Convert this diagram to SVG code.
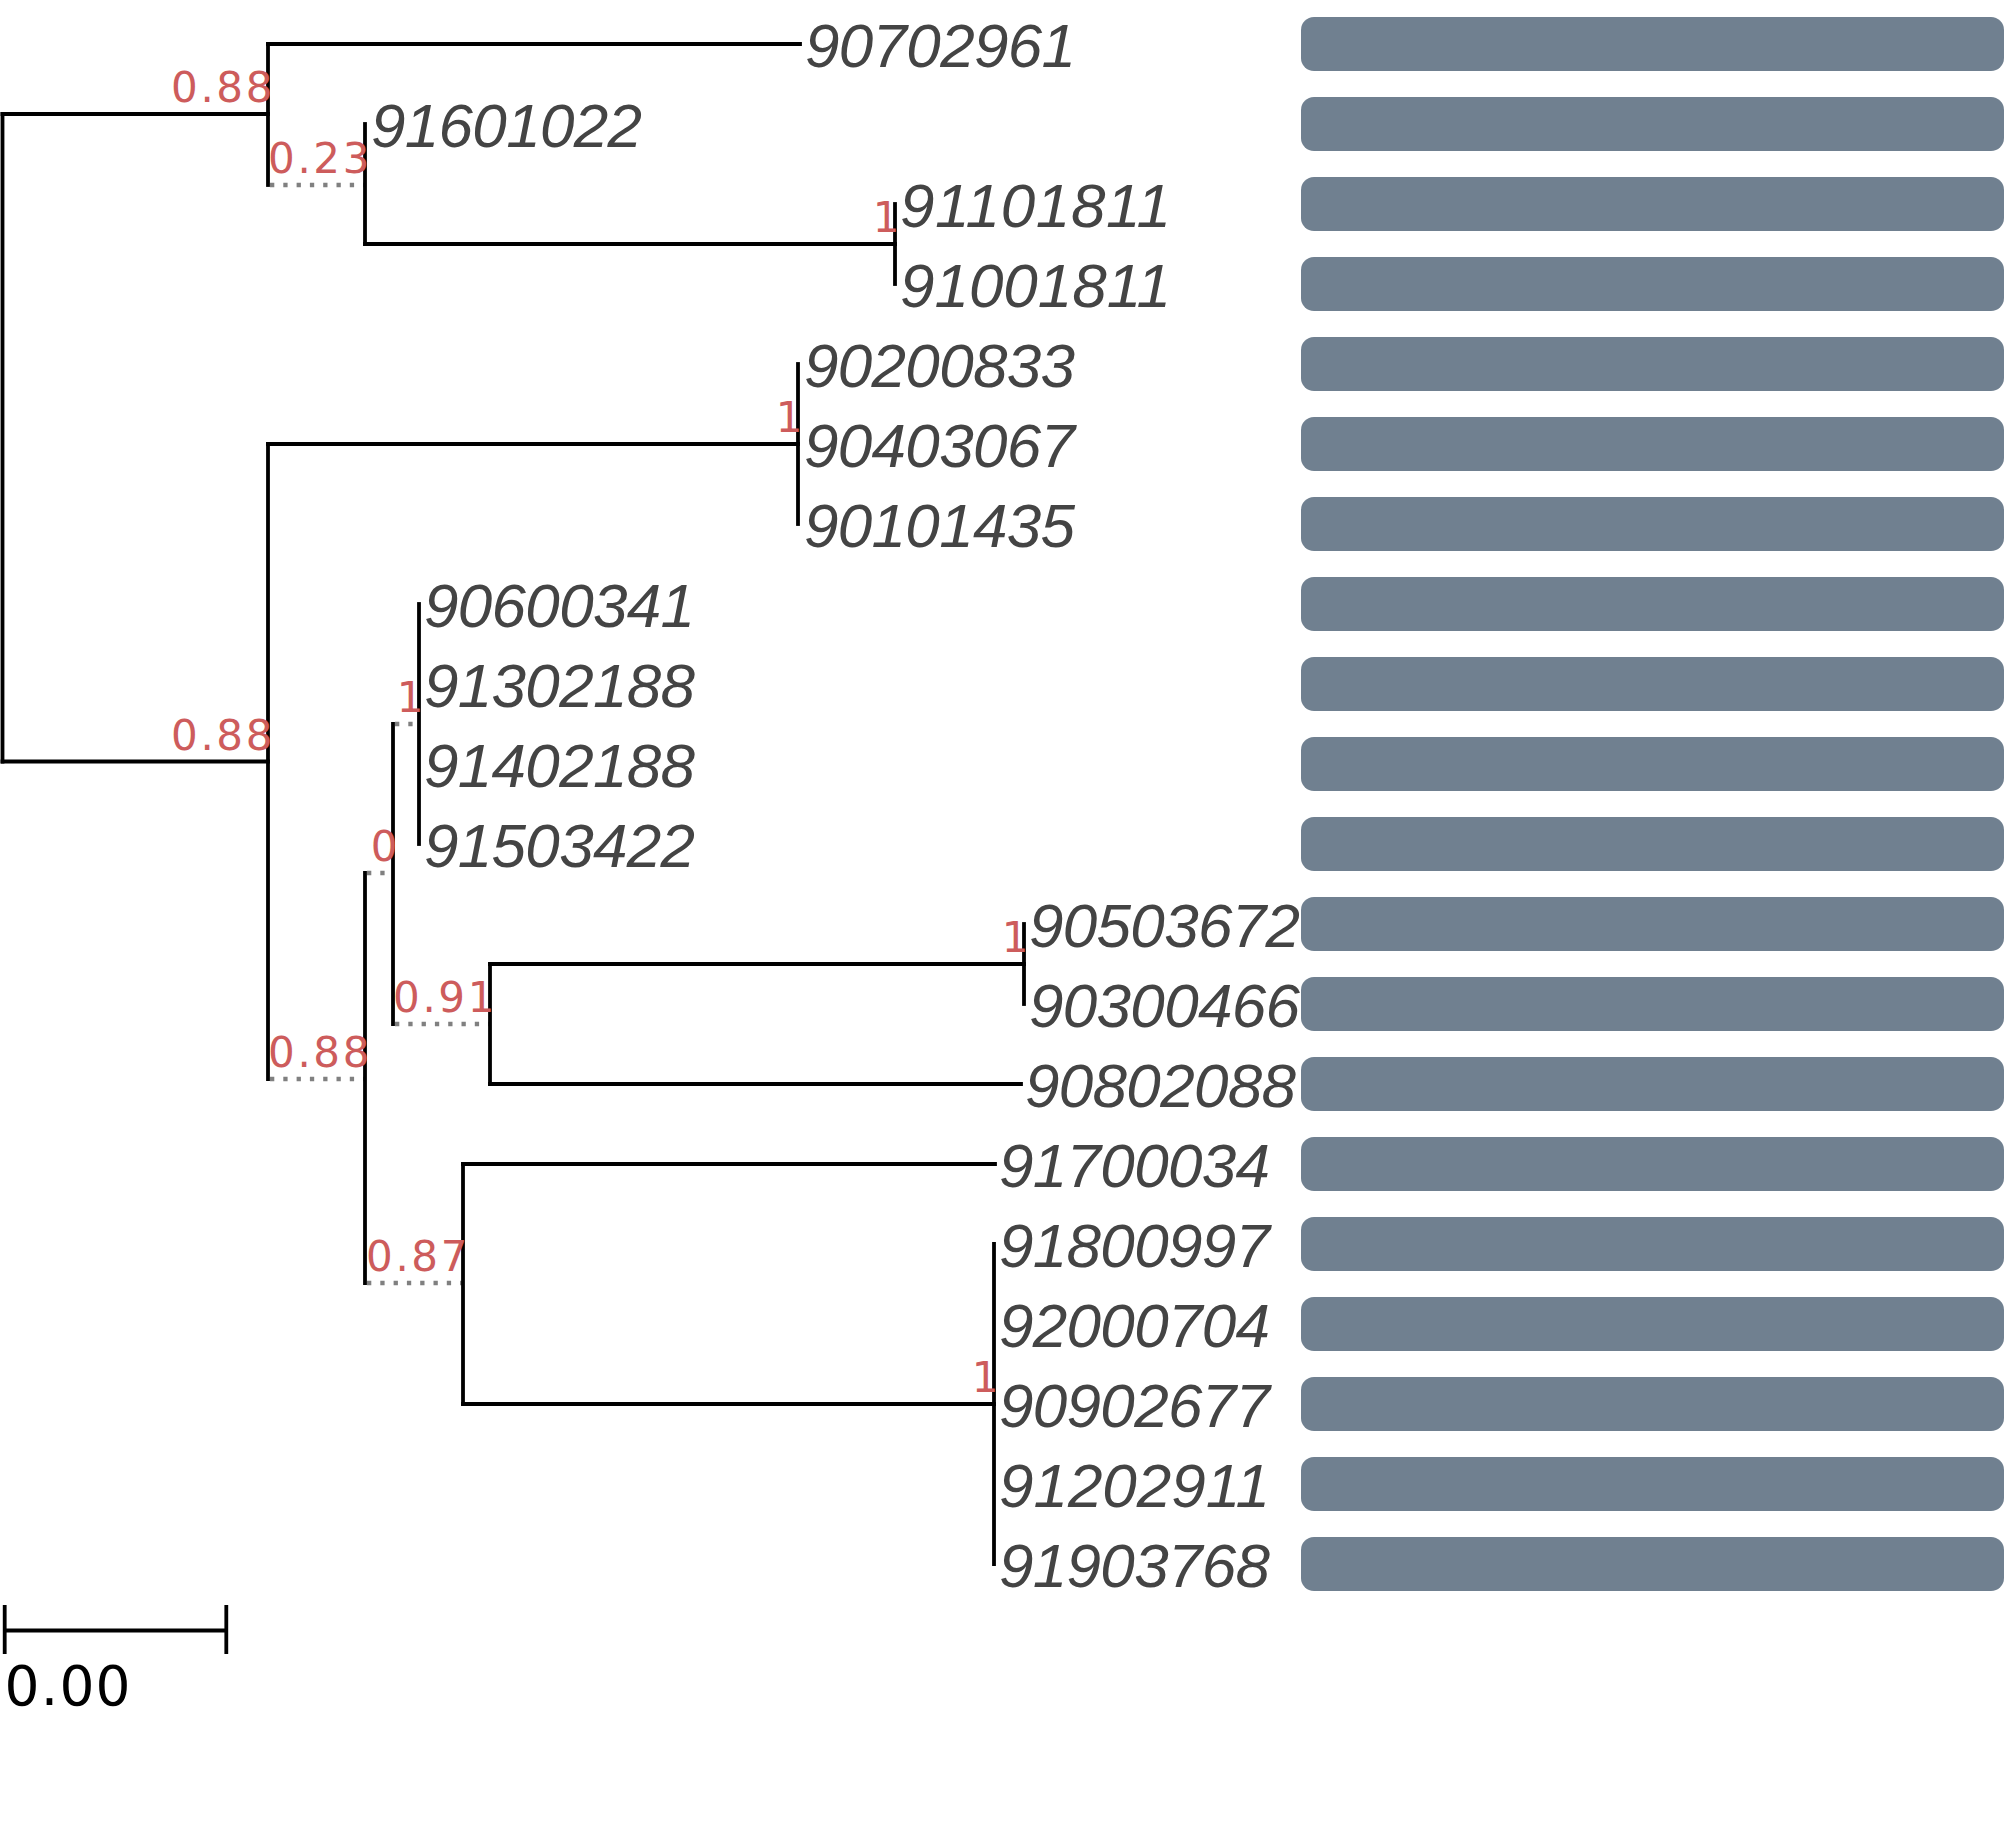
<svg xmlns="http://www.w3.org/2000/svg" width="2007" height="1830" viewBox="0 0 2007 1830">
<style>
.br{stroke:#000;stroke-width:3.8;fill:none;stroke-linecap:square}
.dt{stroke:#808080;stroke-width:4.3;fill:none;stroke-dasharray:4.3 9}
.tip{font-family:"Liberation Sans",Arial,sans-serif;font-style:italic;font-size:62px;fill:#444}
.sup{font-family:"DejaVu Sans",Verdana,sans-serif;font-size:42px;fill:#CD5C5C;text-anchor:end;letter-spacing:2.6px}
.bar{fill:#708090}
.scl{font-family:"DejaVu Sans",Verdana,sans-serif;font-size:55px;fill:#000;letter-spacing:1.2px}
</style>
<rect width="2007" height="1830" fill="#fff"/>
<g id="connectors">
<path class="br" d="M2.5,114V761.5"/>
<path class="br" d="M2.5,114H268"/>
<path class="br" d="M2.5,761.5H268"/>
<path class="br" d="M268,44V185"/>
<path class="br" d="M268,44H800"/>
<path class="dt" d="M270,185H365"/>
<path class="br" d="M365,124V244"/>
<path class="br" d="M365,244H895"/>
<path class="br" d="M895,204V284"/>
<path class="br" d="M268,444V1079"/>
<path class="br" d="M268,444H798"/>
<path class="br" d="M798,364V524"/>
<path class="dt" d="M270,1079H365"/>
<path class="br" d="M365,873V1283"/>
<path class="dt" d="M367,873H393"/>
<path class="br" d="M393,724V1024"/>
<path class="dt" d="M395,724H419"/>
<path class="br" d="M419,604V844"/>
<path class="dt" d="M395,1024H490"/>
<path class="br" d="M490,964V1084"/>
<path class="br" d="M490,964H1024"/>
<path class="br" d="M490,1084H1021"/>
<path class="br" d="M1024,924V1004"/>
<path class="dt" d="M367,1283H463"/>
<path class="br" d="M463,1164V1404"/>
<path class="br" d="M463,1164H995"/>
<path class="br" d="M463,1404H994"/>
<path class="br" d="M994,1244V1564"/>
</g>
<g id="node-A"><text class="sup" x="275" y="102">0.88</text></g>
<g id="node-B"><text class="sup" x="372" y="173">0.23</text></g>
<g id="node-C"><text class="sup" x="902" y="232">1</text></g>
<g id="node-D"><text class="sup" x="275" y="750">0.88</text></g>
<g id="node-E"><text class="sup" x="805" y="432">1</text></g>
<g id="node-F"><text class="sup" x="372" y="1067">0.88</text></g>
<g id="node-G"><text class="sup" x="400" y="861">0</text></g>
<g id="node-H"><text class="sup" x="426" y="712">1</text></g>
<g id="node-I"><text class="sup" x="497" y="1012">0.91</text></g>
<g id="node-J"><text class="sup" x="1031" y="952">1</text></g>
<g id="node-K"><text class="sup" x="470" y="1271">0.87</text></g>
<g id="node-L"><text class="sup" x="1001" y="1392">1</text></g>
<g id="tip-90702961"><text class="tip" x="805" y="66.5" textLength="271">90702961</text><rect class="bar" x="1301" y="17" width="703" height="54" rx="13"/></g>
<g id="tip-91601022"><text class="tip" x="371" y="146.5" textLength="271">91601022</text><rect class="bar" x="1301" y="97" width="703" height="54" rx="13"/></g>
<g id="tip-91101811"><text class="tip" x="900" y="226.5" textLength="271">91101811</text><rect class="bar" x="1301" y="177" width="703" height="54" rx="13"/></g>
<g id="tip-91001811"><text class="tip" x="900" y="306.5" textLength="271">91001811</text><rect class="bar" x="1301" y="257" width="703" height="54" rx="13"/></g>
<g id="tip-90200833"><text class="tip" x="804" y="386.5" textLength="271">90200833</text><rect class="bar" x="1301" y="337" width="703" height="54" rx="13"/></g>
<g id="tip-90403067"><text class="tip" x="804" y="466.5" textLength="271">90403067</text><rect class="bar" x="1301" y="417" width="703" height="54" rx="13"/></g>
<g id="tip-90101435"><text class="tip" x="804" y="546.5" textLength="271">90101435</text><rect class="bar" x="1301" y="497" width="703" height="54" rx="13"/></g>
<g id="tip-90600341"><text class="tip" x="424" y="626.5" textLength="271">90600341</text><rect class="bar" x="1301" y="577" width="703" height="54" rx="13"/></g>
<g id="tip-91302188"><text class="tip" x="424" y="706.5" textLength="271">91302188</text><rect class="bar" x="1301" y="657" width="703" height="54" rx="13"/></g>
<g id="tip-91402188"><text class="tip" x="424" y="786.5" textLength="271">91402188</text><rect class="bar" x="1301" y="737" width="703" height="54" rx="13"/></g>
<g id="tip-91503422"><text class="tip" x="424" y="866.5" textLength="271">91503422</text><rect class="bar" x="1301" y="817" width="703" height="54" rx="13"/></g>
<g id="tip-90503672"><text class="tip" x="1029" y="946.5" textLength="271">90503672</text><rect class="bar" x="1301" y="897" width="703" height="54" rx="13"/></g>
<g id="tip-90300466"><text class="tip" x="1029" y="1026.5" textLength="271">90300466</text><rect class="bar" x="1301" y="977" width="703" height="54" rx="13"/></g>
<g id="tip-90802088"><text class="tip" x="1025" y="1106.5" textLength="271">90802088</text><rect class="bar" x="1301" y="1057" width="703" height="54" rx="13"/></g>
<g id="tip-91700034"><text class="tip" x="999" y="1186.5" textLength="271">91700034</text><rect class="bar" x="1301" y="1137" width="703" height="54" rx="13"/></g>
<g id="tip-91800997"><text class="tip" x="999" y="1266.5" textLength="271">91800997</text><rect class="bar" x="1301" y="1217" width="703" height="54" rx="13"/></g>
<g id="tip-92000704"><text class="tip" x="999" y="1346.5" textLength="271">92000704</text><rect class="bar" x="1301" y="1297" width="703" height="54" rx="13"/></g>
<g id="tip-90902677"><text class="tip" x="999" y="1426.5" textLength="271">90902677</text><rect class="bar" x="1301" y="1377" width="703" height="54" rx="13"/></g>
<g id="tip-91202911"><text class="tip" x="999" y="1506.5" textLength="271">91202911</text><rect class="bar" x="1301" y="1457" width="703" height="54" rx="13"/></g>
<g id="tip-91903768"><text class="tip" x="999" y="1586.5" textLength="271">91903768</text><rect class="bar" x="1301" y="1537" width="703" height="54" rx="13"/></g>
<g id="scale-bar">
<path class="br" style="stroke-linecap:butt" d="M4.7,1605V1654M226.3,1605V1654M4.7,1630.5H226.3"/>
<text class="scl" x="4.5" y="1705">0.00</text>
</g>
</svg>
